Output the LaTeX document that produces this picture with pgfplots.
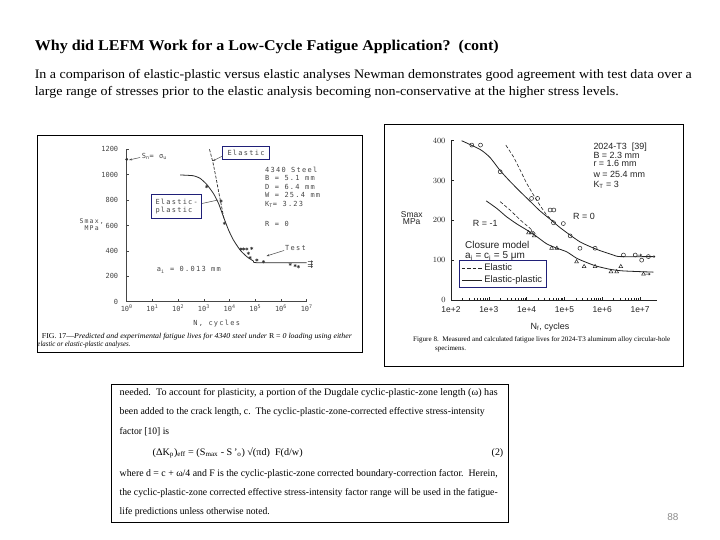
\documentclass[border=0pt]{standalone}
\usepackage{pgfplots}
\pgfplotsset{compat=1.18}
\usepackage{graphicx}
\usepackage{fontspec}
\usetikzlibrary{arrows.meta}
\setmainfont{Liberation Serif}
\newfontfamily\arial{Liberation Sans}
\newfontfamily\plotter[LetterSpace=18]{DejaVu Sans Mono}
\newfontfamily\plotterT{DejaVu Sans Mono}
\definecolor{navybox}{RGB}{32,32,120}
\definecolor{scan}{RGB}{70,70,70}
\definecolor{scanR}{RGB}{35,35,35}
\newcommand{\fitw}[2]{\resizebox{#1}{\height}{#2}}
\pgfdeclareplotmark{runout}{%
  \pgfpathmoveto{\pgfpoint{0pt}{0pt}}%
  \pgfpathlineto{\pgfpoint{3\pgfplotmarksize}{0pt}}%
  \pgfpathmoveto{\pgfpoint{2.2\pgfplotmarksize}{0.7\pgfplotmarksize}}%
  \pgfpathlineto{\pgfpoint{3\pgfplotmarksize}{0pt}}%
  \pgfpathlineto{\pgfpoint{2.2\pgfplotmarksize}{-0.7\pgfplotmarksize}}%
  \pgfusepathqstroke}

\begin{document}
\begin{tikzpicture}
\fill[white] (0,0) rectangle (720bp,-540bp);
\path[use as bounding box] (0,0) rectangle (720bp,-540bp);

% ---------------- left chart: 4340 steel ----------------
\begin{axis}[
  at={(126.7bp,-301.7bp)}, anchor=south west,
  scale only axis, width=180bp, height=152.4bp,
  xmode=log, xmin=1, xmax=1e7, ymin=0, ymax=1200,
  axis lines=left, axis line style={-, draw=scan, line width=0.6bp},
  clip=false,
  xtick={1,10,100,1000,10000,100000,1000000,10000000},
  xticklabels={10\textsuperscript{0},10\textsuperscript{1},10\textsuperscript{2},10\textsuperscript{3},10\textsuperscript{4},10\textsuperscript{5},10\textsuperscript{6},10\textsuperscript{7}},
  xminorticks=false,
  ytick={0,200,400,600,800,1000,1200},
  yticklabels={0,200,400,600,800,1000,1200},
  tick align=inside, major tick length=2.5bp,
  tick style={draw=scan, line width=0.5bp},
  ticklabel style={font=\plotterT\fontsize{7}{8}\selectfont, text=scan},
  yticklabel style={xshift=-5bp},
]
% elastic-plastic prediction
\addplot[scan!60!black, line width=0.8bp, smooth, tension=0.35] coordinates {
 (119,998) (389,992) (708,972) (1288,924) (2344,853) (3715,775) (5754,670)
 (9120,565) (14125,486) (25704,407) (46774,355) (85114,320) (114815,307) (1e7,307)};
% elastic prediction
\addplot[scan!60!black, line width=0.7bp, dash pattern=on 3bp off 1.5bp] coordinates {
 (1660,1200) (2239,1100) (2951,980) (3802,860) (4786,760) (6026,655)};
% test data
\addplot[only marks, mark=asterisk, mark size=1.6bp, scan!70!black, line width=0.5bp] coordinates {
 (1288,906) (4677,793) (6310,617) (27542,415) (34674,415) (46774,415) (72444,420)
 (53703,381) (63096,347) (114815,328) (208930,315) (2.29e6,294) (3.55e6,284) (4.79e6,276)};
% run-outs
\addplot[only marks, mark=runout, mark size=1.5bp, scan!70!black, line width=0.5bp] coordinates {
 (1.12e7,315) (1.12e7,294) (1.12e7,276)};
% S_n = sigma_u
\addplot[only marks, mark=*, mark size=1.2bp, scan!70!black] coordinates {(1,1121)};
\end{axis}

% ---------------- right chart: 2024-T3 ----------------
\begin{axis}[
  at={(451bp,-300bp)}, anchor=south west,
  scale only axis, width=205.7bp, height=159.3bp,
  xmode=log, xmin=100, xmax=2.75e7, ymin=0, ymax=400,
  axis lines=left, axis line style={-, draw=scanR, line width=0.7bp},
  clip=false,
  xtick={100,1000,10000,100000,1000000,10000000},
  xticklabels={1e+2,1e+3,1e+4,1e+5,1e+6,1e+7},
  ytick={0,100,200,300,400},
  tick align=inside, major tick length=3bp, minor tick length=2bp,
  tick style={draw=scanR, line width=0.5bp},
  ticklabel style={font=\arial\fontsize{8.5}{10}\selectfont, text=scanR},
  xticklabel style={yshift=-3bp},
  yticklabel style={xshift=-2bp},
  legend style={at={(0.039,0.073)}, anchor=south west, draw=navybox, line width=1bp,
    font=\arial\fontsize{9.5}{10}\selectfont, text=scanR, inner xsep=2bp, inner ysep=1.5bp,
    row sep=0bp},
  legend cell align=left,
  legend image code/.code={\draw[#1] (0bp,0bp) -- (20bp,0bp);},
]
% R = 0, elastic
\addplot[scanR, line width=0.6bp, dash pattern=on 3.5bp off 2bp] coordinates {
 (2818,389) (4467,360) (6761,326) (10000,293) (15136,264) (22387,238) (33884,213) (51286,197)};
\addlegendentry{Elastic}
% R = 0, elastic-plastic
\addplot[scanR, line width=0.8bp, smooth, tension=0.4] coordinates {
 (191,400) (589,378) (1072,358) (1995,325) (3631,298) (6761,272) (12303,248) (22387,224)
 (41687,203) (75858,182) (141254,163) (257040,146) (478630,134) (870964,124) (1.95e6,113)
 (2.95e6,109) (2.24e7,109)};
\addlegendentry{Elastic-plastic}
% R = -1, elastic
\addplot[scanR, line width=0.6bp, dash pattern=on 3.5bp off 2bp, forget plot] coordinates {
 (1995,247) (3631,226) (6761,201) (12303,180) (18621,163)};
% R = -1, elastic-plastic
\addplot[scanR, line width=0.8bp, smooth, tension=0.4, forget plot] coordinates {
 (851,249) (1622,230) (2951,209) (5495,191) (10000,176) (18621,159) (33884,141) (63096,130)
 (114815,121) (208930,105) (389045,94) (707946,85) (1.62e6,77) (3.63e6,73) (2.24e7,70)};
% R = 0 tests
\addplot[only marks, mark=o, mark size=2bp, scanR, line width=0.5bp, forget plot] coordinates {
 (355,389) (603,389) (1995,322) (13490,255) (19498,255) (41687,226) (52481,226) (51286,194)
 (93325,192) (141254,161) (257040,130) (645654,130) (3.63e6,113) (7.41e6,113) (1.10e7,100)
 (1.66e7,109)};
% R = -1 tests
\addplot[only marks, mark=triangle, mark size=2.2bp, scanR, line width=0.5bp, forget plot] coordinates {
 (11220,169) (13490,169) (15849,161) (45709,130) (63096,130) (208930,96) (331131,84)
 (645654,84) (1.70e6,71) (2.40e6,71) (3.09e6,84) (1.23e7,65)};
% run-outs
\addplot[only marks, mark=runout, mark size=1.6bp, scanR, line width=0.5bp, forget plot] coordinates {
 (8.2e6,113) (1.84e7,109) (1.37e7,65)};
\end{axis}

\begin{scope}[x=1bp,y=-1bp]
% ---------------- slide text ----------------
\node[anchor=west,inner sep=0] at (34.6,47) {\fontsize{15}{18}\selectfont\bfseries\fitw{464bp}{Why did LEFM Work for a Low-Cycle Fatigue Application?\ \ (cont)}};
\node[anchor=west,inner sep=0] at (34.6,75.5) {\fontsize{13}{15}\selectfont\fitw{657bp}{In a comparison of elastic-plastic versus elastic analyses Newman demonstrates good agreement with test data over a}};
\node[anchor=west,inner sep=0] at (34.6,92.5) {\fontsize{13}{15}\selectfont\fitw{584bp}{large range of stresses prior to the elastic analysis becoming non-conservative at the higher stress levels.}};

% frames
\draw[line width=0.8bp] (37,135) rectangle (362,352);
\draw[line width=0.8bp] (384,124) rectangle (683,366);
\draw[line width=0.8bp] (111,384) rectangle (508,522);

% ---------------- left chart annotations ----------------
\begin{scope}[every node/.style={inner sep=0, text=scan, font=\plotter\fontsize{7}{8}\selectfont}]
\node[anchor=west] at (141.7,156.7) {S\textsubscript{n}= σ\textsubscript{u}};
\draw[scan, line width=0.5bp, -{Stealth[length=3bp,width=2bp]}] (140,157.5) -- (129,160);
\node[draw=navybox, line width=1bp, fill=white, minimum width=46.6bp, minimum height=13.3bp] at (246,153.3) {Elastic};
\draw[scan, line width=0.5bp, -{Stealth[length=3bp,width=2bp]}] (222.7,156) -- (212.5,161);
\node[draw=navybox, line width=1bp, fill=white, minimum width=50bp, minimum height=24bp, align=left] at (176.7,206.3) {Elastic-\\plastic};
\draw[scan, line width=0.5bp] (202,203.5) -- (218,200);
\node[anchor=west] at (265,170) {4340 Steel};
\node[anchor=west] at (265,178.3) {B = 5.1 mm};
\node[anchor=west] at (265,186.7) {D = 6.4 mm};
\node[anchor=west] at (265,195) {W = 25.4 mm};
\node[anchor=west] at (265,204.3) {K\textsubscript{T}= 3.23};
\node[anchor=west] at (265,224.3) {R = 0};
\node[anchor=west] at (285,248.3) {Test};
\draw[scan, line width=0.5bp, -{Stealth[length=3bp,width=2bp]}] (284,250.5) -- (266.5,256);
\node[anchor=west] at (156.7,270) {a\textsubscript{i} = 0.013 mm};
\node[align=center, font=\plotter\fontsize{6.5}{6.8}\selectfont] at (91.7,225) {Smax,\\MPa};
\node at (216.7,323.3) {N, cycles};
\end{scope}
\node[anchor=west,inner sep=0] at (41.7,336.7) {\fontsize{7.5}{9}\selectfont\fitw{310bp}{FIG. 17---\textit{Predicted and experimental fatigue lives for 4340 steel under} R = \textit{0 loading using either}}};
\node[anchor=west,inner sep=0] at (37.3,345) {\fontsize{7.5}{9}\selectfont\fitw{93bp}{\textit{elastic or elastic-plastic analyses.}}};

% ---------------- right chart annotations ----------------
\begin{scope}[every node/.style={inner sep=0, text=scanR, font=\arial\fontsize{9}{10}\selectfont}]
\node[anchor=west] at (593.3,146.7) {2024-T3\ \ [39]};
\node[anchor=west] at (593.3,155) {B = 2.3 mm};
\node[anchor=west] at (593.3,163.3) {r = 1.6 mm};
\node[anchor=west] at (593.3,174.3) {w = 25.4 mm};
\node[anchor=west] at (593.3,185) {K\textsubscript{T} = 3};
\node[anchor=west] at (573,216.7) {R = 0};
\node[anchor=west] at (472.7,223.3) {R = -1};
\node[anchor=west, font=\arial\fontsize{10}{11}\selectfont] at (465,245) {Closure model};
\node[anchor=west, font=\arial\fontsize{10}{11}\selectfont] at (465,256.5) {a\textsubscript{i} = c\textsubscript{i} = 5 μm};
\node[align=center, font=\arial\fontsize{8.5}{7.6}\selectfont] at (411.7,218) {Smax\\MPa};
\node at (550,326.7) {N\textsubscript{f}, cycles};
\end{scope}
\node[anchor=west,inner sep=0] at (413,340) {\fontsize{7}{8}\selectfont\fitw{257bp}{Figure 8.\ \ Measured and calculated fatigue lives for 2024-T3 aluminum alloy circular-hole}};
\node[anchor=west,inner sep=0] at (435,349.3) {\fontsize{7}{8}\selectfont specimens.};

% ---------------- bottom text box ----------------
\begin{scope}[every node/.style={anchor=west, inner sep=0, font=\fontsize{10}{12}\selectfont}]
\node at (119.5,393.5) {\fitw{378bp}{needed.\ \ To account for plasticity, a portion of the Dugdale cyclic-plastic-zone length (ω) has}};
\node at (119.5,412.5) {\fitw{365bp}{been added to the crack length, c.\ \ The cyclic-plastic-zone-corrected effective stress-intensity}};
\node at (119.5,431.5) {\fitw{49.5bp}{factor [10] is}};
\node at (152.5,453) {\fitw{150bp}{(ΔK\textsubscript{p})\textsubscript{eff} = (S\textsubscript{max} - S\,'\textsubscript{o}) √(πd)\ \ F(d/w)}};
\node at (491.5,453) {(2)};
\node at (119.5,474) {\fitw{378bp}{where d = c + ω/4 and F is the cyclic-plastic-zone corrected boundary-correction factor.\ \ Herein,}};
\node at (119.5,493.5) {\fitw{378bp}{the cyclic-plastic-zone corrected effective stress-intensity factor range will be used in the fatigue-}};
\node at (119.5,512.5) {\fitw{150bp}{life predictions unless otherwise noted.}};
\end{scope}

\node[text=black!45, font=\arial\fontsize{10}{12}\selectfont] at (673,517) {88};
\end{scope}
\end{tikzpicture}
\end{document}
